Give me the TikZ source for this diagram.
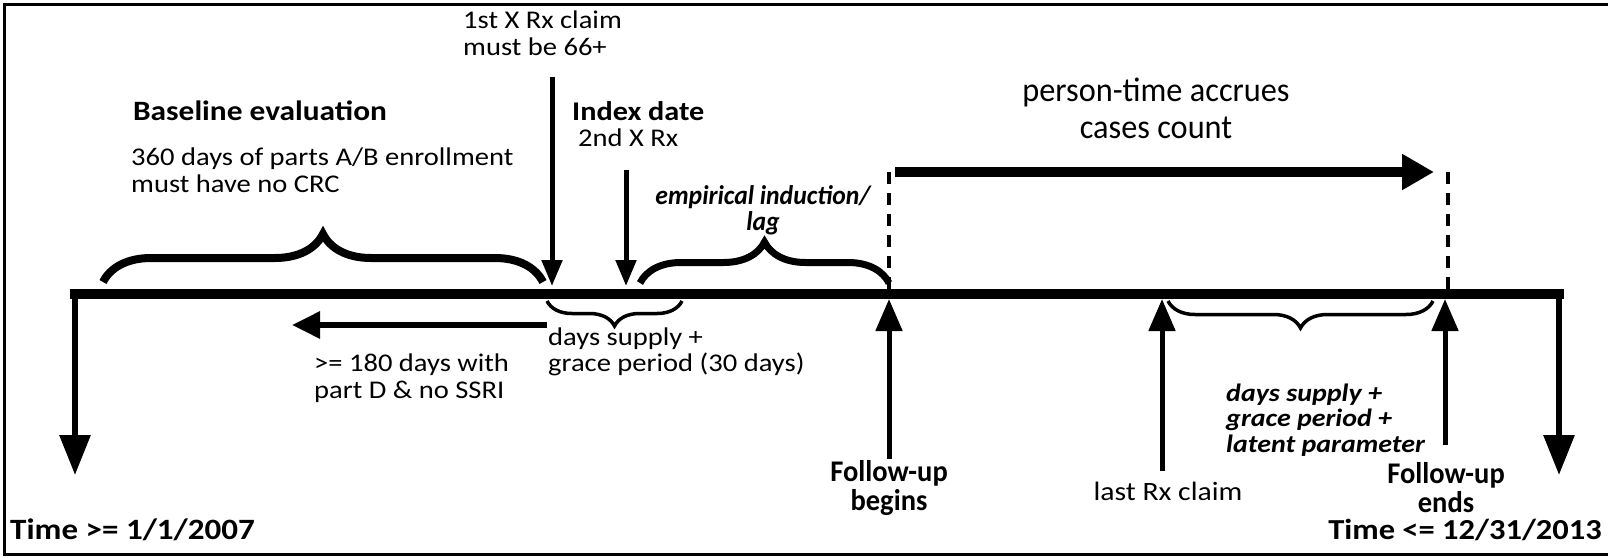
\documentclass[tikz,border=0pt]{standalone}
\usepackage{fontspec}
\setmainfont[FakeStretch=1.12]{Carlito}
\newfontfamily\narrowfont[FakeStretch=0.95]{Carlito}
\usetikzlibrary{arrows.meta, decorations.pathreplacing}

\begin{document}
\begin{tikzpicture}[x=1pt, y=-1pt,
          lbl/.style={inner sep=0pt, align=left,
                      font=\fontsize{25.5}{26.5}\selectfont},
          hd/.style={inner sep=0pt, font=\fontsize{28}{29}\selectfont\bfseries},
          fu/.style={inner sep=0pt, align=center,
                     font=\narrowfont\fontsize{30}{29}\selectfont\bfseries},
          tickdn/.style={line width=5pt, -{Triangle[length=26pt, width=20pt]}},
          tickup/.style={line width=5pt, -{Triangle[length=32pt, width=26pt]}},
          endarr/.style={line width=6pt, -{Triangle[length=40pt, width=30pt]}},
          dsh/.style={line width=4.5pt, dash pattern=on 12pt off 9pt},
          brc/.style={decorate, decoration={brace, amplitude=#1}}
        ]
        \useasboundingbox (0,0) rectangle (1608,557);
        \draw[line width=3pt] (1612,4) -- (4,4) -- (4,554) -- (1612,554);

        % timeline
        \coordinate (tstart) at (70,294);
        \coordinate (tend)   at (1564,294);
        \draw[line width=10pt] (tstart) -- (tend);
        \coordinate (lo) at (75,289);   \coordinate (lotip) at (75,475);
        \coordinate (hi) at (1559,289); \coordinate (hitip) at (1559,475);
        \draw[endarr] (lo) -- (lotip);
        \draw[endarr] (hi) -- (hitip);
        \node[hd, font=\fontsize{29.5}{30}\selectfont\bfseries, anchor=west]
              (tmin) at (10,530) {Time >= 1/1/2007};
        \node[hd, font=\fontsize{29}{30}\selectfont\bfseries, anchor=east]
              (tmax) at (1602,530) {Time <= 12/31/2013};

        % BASELINE
        \node[hd] (basehd) at (260,111) {Baseline evaluation};
        \node[lbl, anchor=west] (basetx) at (131,170)
              {360 days of parts A/B enrollment\\must have no CRC};
        \coordinate (bl) at (103,282); \coordinate (br) at (543,282);
        \draw[brc=48pt, line width=8pt] (bl) -- (br);
        \coordinate (back0) at (547,325); \coordinate (back1) at (292,325);
        \draw[line width=6pt, -{Triangle[length=28pt, width=26pt]}]
              (back0) -- (back1);
        \node[lbl, anchor=west] (partd) at (314,378)
              {>= 180 days with\\part D \& no SSRI};

        % INDEX
        \node[lbl, anchor=west] (first) at (463,33)
              {1st X Rx claim\\must be 66+};
        \coordinate (firsttop) at (552,77); \coordinate (firstpt) at (552,286);
        \draw[tickdn] (firsttop) -- (firstpt);
        \node[hd, font=\fontsize{27}{28}\selectfont\bfseries, anchor=west]
              (idx) at (572,111) {Index date};
        \node[lbl, anchor=west] (second) at (578,138) {2nd X Rx};
        \coordinate (sectop) at (626,170); \coordinate (secpt) at (626,286);
        \draw[tickdn] (sectop) -- (secpt);
        \coordinate (gl) at (547,301); \coordinate (gr) at (682,301);
        \draw[brc=25pt, decoration={mirror}, line width=3.5pt] (gl) -- (gr);
        \node[lbl, anchor=west] (grace) at (548,352)
              {days supply +\\grace period (30 days)};
        \node[inner sep=0pt, align=center,
              font=\narrowfont\fontsize{27}{26}\selectfont\bfseries\itshape]
              (lag) at (763,210) {empirical induction/\\lag};
        \coordinate (ll) at (640,283); \coordinate (lr) at (889,283);
        \draw[brc=41pt, line width=7pt] (ll) -- (lr);

        % FOLLOW-UP
        \coordinate (fb) at (889,172); \coordinate (fbt) at (889,294);
        \draw[dsh] (fb) -- (fbt);
        \coordinate (fe) at (1448,172); \coordinate (fet) at (1448,292);
        \draw[dsh] (fe) -- (fet);
        \coordinate (pt0) at (895,172); \coordinate (pt1) at (1434,172);
        \draw[line width=10pt, -{Triangle[length=32pt, width=34pt]}]
              (pt0) -- (pt1);
        \node[inner sep=0pt, align=center,
              font=\narrowfont\fontsize{34}{37}\selectfont]
              (accr) at (1156,108) {person-time accrues\\cases count};
        \node[fu] (fubeg) at (889,488) {Follow-up\\begins};
        \coordinate (fubot) at (889,459); \coordinate (fupt) at (889,299);
        \draw[tickup] (fubot) -- (fupt);
        \node[lbl, font=\fontsize{26.5}{28}\selectfont]
              (last) at (1168,491) {last Rx claim};
        \coordinate (lastbot) at (1162,471); \coordinate (lastpt) at (1162,299);
        \draw[tickup] (lastbot) -- (lastpt);
        \coordinate (el) at (1168,301); \coordinate (er) at (1433,301);
        \draw[brc=27pt, decoration={mirror}, line width=3.5pt] (el) -- (er);
        \node[lbl, anchor=west,
              font=\fontsize{25}{25.5}\selectfont\bfseries\itshape]
              (latent) at (1226,420)
              {days supply +\\grace period +\\latent parameter};
        \node[fu] (fuend) at (1446,488) {Follow-up\\ends};
        \coordinate (endbot) at (1445,445); \coordinate (endpt) at (1445,299);
        \draw[tickup] (endbot) -- (endpt);
      \end{tikzpicture}
\end{document}
